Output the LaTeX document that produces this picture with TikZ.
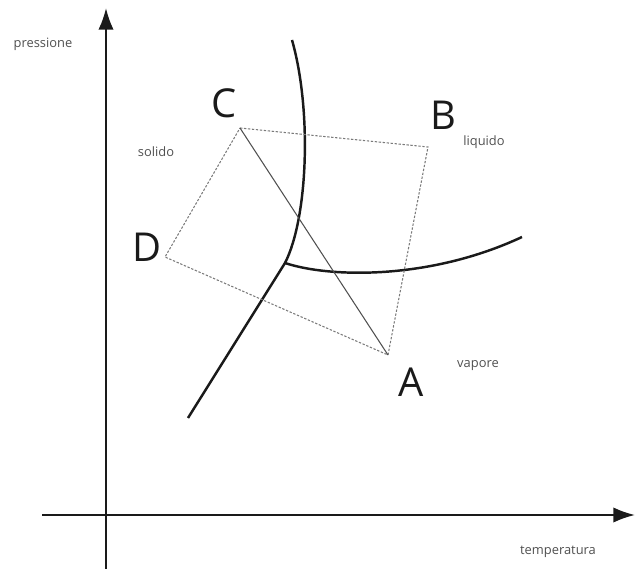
\documentclass[tikz,border=0pt]{standalone}
\usepackage{fontspec}
\setmainfont{Open Sans}
\usetikzlibrary{arrows.meta}
\definecolor{pdink}{HTML}{1A1A1A}
\definecolor{pdgray}{HTML}{505050}
\definecolor{pddash}{HTML}{7A7A7A}
\tikzset{
  axis/.style={-{Latex[length=6.5mm, width=4.6mm]}, line width=1.7pt, pdink},
  curve/.style={line width=2.1pt, pdink, line join=round},
  guide/.style={line width=0.9pt, pdgray},
  cycle/.style={line width=0.9pt, pddash, dash pattern=on 2pt off 1.4pt},
  vertex/.style={font=\fontsize{34}{40}\selectfont, text=pdink, inner sep=0pt},
  phase/.style={font=\fontsize{11}{13}\selectfont, text=pdgray, inner sep=0pt},
}
\begin{document}
\begin{tikzpicture}[x=0.03cm, y=-0.03cm]
    \useasboundingbox (0,0) rectangle (635,569);

    % assi
    \coordinate (xs) at (42,515);
    \coordinate (xe) at (635,515);
    \coordinate (ys) at (106,569);
    \coordinate (ye) at (106,8);
    \draw[axis] (xs) -- (xe);
    \draw[axis] (ys) -- (ye);
    \node[phase] (pres) at (43,44) {pressione};
    \node[phase] (temp) at (558,552) {temperatura};

    % curve di equilibrio
    \coordinate (T) at (285,263);
    \draw[curve] (292,40) .. controls (312,110) and (308,218) .. (T) -- (188,418);
    \draw[curve] (T) .. controls (330,278) and (430,280) .. (522,237);

    % ciclo
    \coordinate (C) at (240,128);
    \coordinate (B) at (428,147);
    \coordinate (A) at (388,355);
    \coordinate (D) at (165,257);
    \draw[cycle] (C) -- (B) -- (A) -- (D) -- cycle;
    \draw[guide] (C) -- (A);

    \node[vertex] (lC) at (224,103) {C};
    \node[vertex] (lB) at (443,115) {B};
    \node[vertex] (lD) at (147,247) {D};
    \node[vertex] (lA) at (411,382) {A};

    \node[phase] (sol) at (156,152) {solido};
    \node[phase] (liq) at (484,142) {liquido};
    \node[phase] (vap) at (478,366) {vapore};
  \end{tikzpicture}
\end{document}
